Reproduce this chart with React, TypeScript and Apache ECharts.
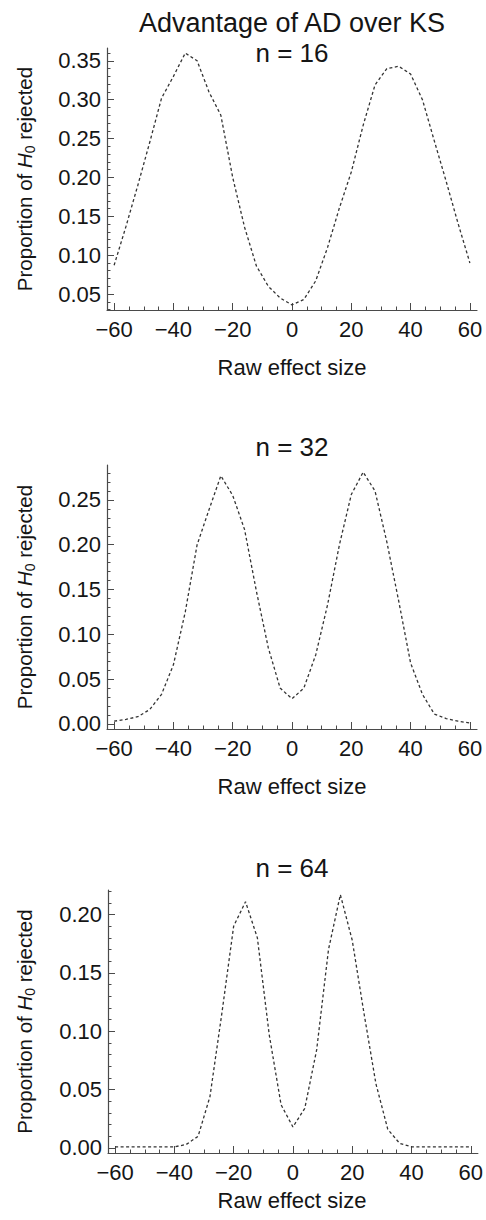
import React, { useEffect, useRef } from "react";
import * as echarts from "echarts";

// Raw effect size (x) values shared by all panels
const xs = [-60, -56, -52, -48, -44, -40, -36, -32, -28, -24, -20, -16, -12, -8, -4, 0, 4, 8, 12, 16, 20, 24, 28, 32, 36, 40, 44, 48, 52, 56, 60];

// Proportion of H0 rejected
const n16 = [0.087, 0.137, 0.19, 0.245, 0.302, 0.33, 0.36, 0.35, 0.31, 0.28, 0.2, 0.136, 0.086, 0.06, 0.045, 0.036, 0.043, 0.067, 0.11, 0.161, 0.207, 0.267, 0.319, 0.34, 0.343, 0.333, 0.3, 0.247, 0.195, 0.141, 0.09];
const n32 = [0.003, 0.005, 0.008, 0.016, 0.033, 0.066, 0.125, 0.2, 0.239, 0.277, 0.255, 0.217, 0.148, 0.085, 0.04, 0.028, 0.04, 0.077, 0.133, 0.2, 0.256, 0.281, 0.26, 0.203, 0.137, 0.068, 0.033, 0.011, 0.006, 0.003, 0.001];
const n64 = [0.001, 0.001, 0.001, 0.001, 0.001, 0.001, 0.003, 0.01, 0.044, 0.115, 0.19, 0.211, 0.18, 0.097, 0.037, 0.018, 0.034, 0.084, 0.17, 0.217, 0.178, 0.115, 0.055, 0.016, 0.004, 0.001, 0.001, 0.001, 0.001, 0.001, 0.001];

const panelTitles = ["n = 16", "n = 32", "n = 64"];
const mainTitle = "Advantage of AD over KS";
const xName = "Raw effect size";

const xMajor = [-60, -40, -20, 0, 20, 40, 60];
const xMinor = [-60, -55, -50, -45, -40, -35, -30, -25, -20, -15, -10, -5, 0, 5, 10, 15, 20, 25, 30, 35, 40, 45, 50, 55, 60];
const yMajor16 = [0.05, 0.1, 0.15, 0.2, 0.25, 0.3, 0.35];
const yMajor32 = [0, 0.05, 0.1, 0.15, 0.2, 0.25];
const yMajor64 = [0, 0.05, 0.1, 0.15, 0.2];

const FONT = "Liberation Sans";
const AX = "#4a4a4a";
const TXT = "#151515";

function minorRange(lo: number, hi: number, step: number) {
  const out: number[] = [];
  for (let k = Math.ceil(lo / step - 1e-9); k * step <= hi + 1e-9; k++) out.push(+(k * step).toFixed(4));
  return out;
}

export default function App() {
  const ref = useRef<HTMLDivElement>(null);
  useEffect(() => {
    document.body.style.margin = "0";
    const chart = echarts.init(ref.current!, undefined, { renderer: "svg" });

    const panels = [
      { data: n16, ymin: 0.0295, ymax: 0.3665, major: yMajor16, top: 48, height: 262, left: 107, titleY: 53, nameY: 367 },
      { data: n32, ymin: -0.0057, ymax: 0.289, major: yMajor32, top: 465, height: 264, left: 107, titleY: 447, nameY: 786 },
      { data: n64, ymin: -0.0043, ymax: 0.221, major: yMajor64, top: 890, height: 263, left: 108, titleY: 868, nameY: 1200 },
    ];

    const grid: any[] = [];
    const xAxis: any[] = [];
    const yAxis: any[] = [];
    const series: any[] = [];
    const graphic: any[] = [];

    const fmtX = (v: number) => (v < 0 ? "\u2212" + Math.abs(v) : String(v));

    panels.forEach((p, i) => {
      grid.push({ left: p.left, width: 370, top: p.top, height: p.height });
      xAxis.push({
        type: "value", gridIndex: i, min: -62.4, max: 62.4,
        axisLine: { show: true, onZero: false, lineStyle: { color: AX, width: 1.2 } },
        axisTick: { show: true, inside: true, length: 7, customValues: xMajor, lineStyle: { color: AX } },
        axisLabel: { show: true, customValues: xMajor, margin: 8, formatter: fmtX, color: TXT, fontSize: 22, fontFamily: FONT },
        splitLine: { show: false },
      });
      xAxis.push({
        type: "value", gridIndex: i, min: -62.4, max: 62.4, position: "bottom",
        axisLine: { show: false, onZero: false },
        axisTick: { show: true, inside: true, length: 3.5, customValues: xMinor, lineStyle: { color: AX } },
        axisLabel: { show: false },
        splitLine: { show: false },
      });
      yAxis.push({
        type: "value", gridIndex: i, min: p.ymin, max: p.ymax,
        axisLine: { show: true, onZero: false, lineStyle: { color: AX, width: 1.2 } },
        axisTick: { show: true, inside: true, length: 7, customValues: p.major, lineStyle: { color: AX } },
        axisLabel: { show: true, customValues: p.major, margin: 6, formatter: (v: number) => v.toFixed(2), color: TXT, fontSize: 22, fontFamily: FONT },
        splitLine: { show: false },
      });
      yAxis.push({
        type: "value", gridIndex: i, min: p.ymin, max: p.ymax, position: "left",
        axisLine: { show: false, onZero: false },
        axisTick: { show: true, inside: true, length: 3.5, customValues: minorRange(p.ymin, p.ymax, 0.01), lineStyle: { color: AX } },
        axisLabel: { show: false },
        splitLine: { show: false },
      });
      series.push({
        type: "line", xAxisIndex: i * 2, yAxisIndex: i * 2,
        data: xs.map((x, k) => [x, p.data[k]]),
        showSymbol: false, smooth: false,
        lineStyle: { color: "#333", width: 1.3, type: [3, 2.5] },
      });
      graphic.push({
        type: "text", x: 292, y: p.titleY,
        style: { text: panelTitles[i], fontSize: 26, fontFamily: FONT, fill: TXT, align: "center", verticalAlign: "middle" },
      });
      graphic.push({
        type: "text", x: 292, y: p.nameY,
        style: { text: xName, fontSize: 22, fontFamily: FONT, fill: TXT, align: "center", verticalAlign: "middle" },
      });
      graphic.push({
        type: "text", x: 24, y: p.top + p.height / 2, rotation: Math.PI / 2,
        style: {
          text: "{a|Proportion of }{h|H}{s|0}{a| rejected}",
          align: "center", verticalAlign: "middle",
          rich: {
            a: { fontSize: 20.5, fontFamily: FONT, fill: TXT, lineHeight: 26, verticalAlign: "middle" },
            h: { fontSize: 20.5, fontFamily: FONT, fontStyle: "italic", fill: TXT, lineHeight: 26, verticalAlign: "middle" },
            s: { fontSize: 14, fontFamily: FONT, fill: TXT, lineHeight: 14, verticalAlign: "bottom" },
          },
        },
      });
    });

    graphic.push({
      type: "text", x: 292, y: 23,
      style: { text: mainTitle, fontSize: 27, fontFamily: FONT, fill: TXT, align: "center", verticalAlign: "middle" },
    });

    chart.setOption({
      animation: false,
      backgroundColor: "#fff",
      textStyle: { fontFamily: FONT },
      grid, xAxis, yAxis, series, graphic,
    });
    return () => chart.dispose();
  }, []);
  return <div ref={ref} style={{ width: 486, height: 1220 }} />;
}
